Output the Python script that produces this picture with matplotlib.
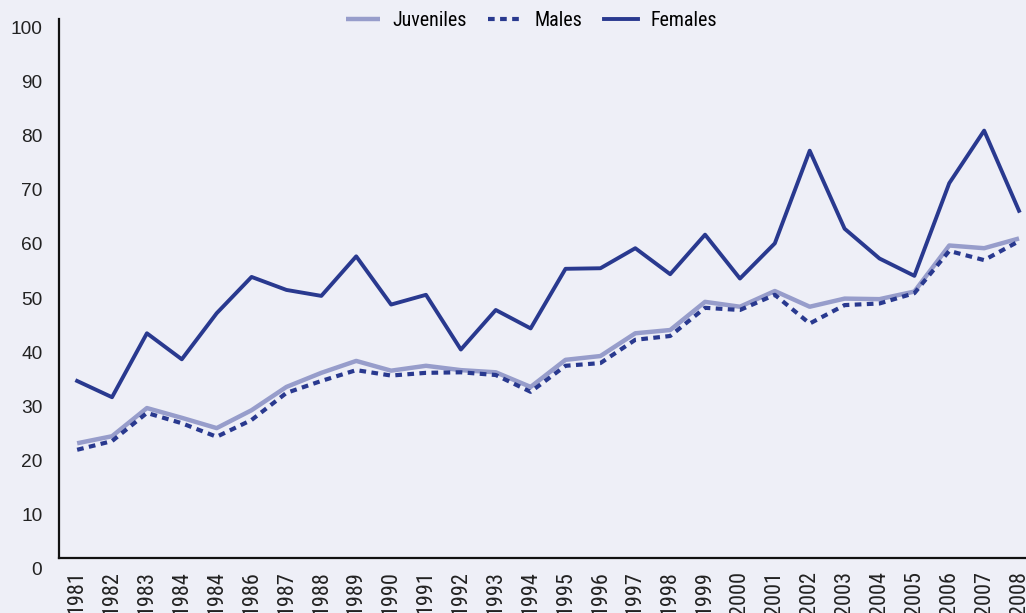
import matplotlib
matplotlib.use("Agg")
import matplotlib.pyplot as plt

years = ["1981", "1982", "1983", "1984", "1984", "1986", "1987", "1988", "1989",
         "1990", "1991", "1992", "1993", "1994", "1995", "1996", "1997", "1998",
         "1999", "2000", "2001", "2002", "2003", "2004", "2005", "2006", "2007", "2008"]

juveniles = [23.2, 24.5, 29.7, 27.9, 26.0, 29.3, 33.6, 36.2, 38.4, 36.6,
             37.5, 36.7, 36.3, 33.6, 38.6, 39.3, 43.5, 44.1, 49.3, 48.4,
             51.3, 48.4, 49.9, 49.8, 51.2, 59.7, 59.2, 61.0]
males = [22.0, 23.6, 28.8, 26.9, 24.4, 27.5, 32.5, 34.7, 36.7, 35.7,
         36.2, 36.3, 35.8, 32.7, 37.5, 38.0, 42.3, 43.0, 48.2, 47.8,
         50.6, 45.3, 48.7, 49.0, 50.9, 58.7, 57.0, 60.5]
females = [34.7, 31.7, 43.5, 38.7, 47.2, 53.9, 51.5, 50.4, 57.7, 48.8,
           50.6, 40.5, 47.8, 44.4, 55.4, 55.5, 59.2, 54.4, 61.7, 53.6,
           60.1, 77.2, 62.8, 57.3, 54.1, 71.2, 80.9, 66.1]

bg = "#eeeff7"
dark = "#29398f"
light = "#979dcb"
narrow = ["Liberation Sans Narrow", "Roboto Condensed", "Liberation Sans", "DejaVu Sans"]
regular = ["Liberation Sans", "DejaVu Sans"]

fig = plt.figure(figsize=(10.26, 6.13), dpi=100, facecolor=bg)
ax = fig.add_axes([0.0575, 0.0718, 0.9425, 0.8972], facecolor=bg)

x = list(range(len(years)))
ax.plot(x, juveniles, color=light, lw=3.2, label="Juveniles", solid_capstyle="butt")
ax.plot(x, males, color=dark, lw=3.0, dashes=(1.6, 1.3), label="Males")
ax.plot(x, females, color=dark, lw=2.8, label="Females")

# spines first: moving a spine resets the ticks
ax.spines["top"].set_visible(False)
ax.spines["right"].set_visible(False)
ax.spines["bottom"].set_position(("data", 2))
ax.spines["left"].set_bounds(2, 101.5)
for side in ("left", "bottom"):
    ax.spines[side].set_linewidth(1.6)
    ax.spines[side].set_color("#111111")

ax.set_xlim(-0.52, 27.2)
ax.set_ylim(0, 101.5)
ax.tick_params(axis="both", length=0, colors="#222222")
ax.tick_params(axis="y", pad=12)
ax.tick_params(axis="x", pad=9)
ax.set_yticks(range(0, 101, 10))
ax.set_yticklabels([str(v) for v in range(0, 101, 10)], fontsize=13.8, family=regular)
ax.set_xticks(x)
ax.set_xticklabels(years, rotation=90, fontsize=16, family=narrow, va="top")

fig.legend(loc="center", bbox_to_anchor=(0.518, 0.966), ncol=3, frameon=False,
           prop={"family": narrow, "size": 14.4}, handlelength=1.7,
           handletextpad=0.6, columnspacing=1.1)

fig.savefig("out.png", dpi=100, facecolor=bg)
